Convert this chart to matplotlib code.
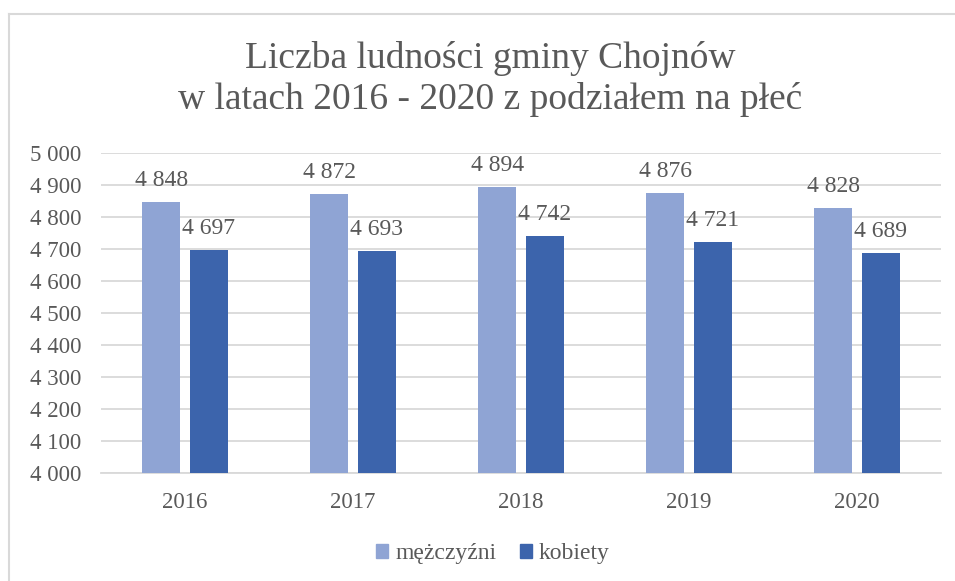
import matplotlib
matplotlib.use("Agg")
import matplotlib.pyplot as plt
import numpy as np
from matplotlib.lines import Line2D
from matplotlib.patches import Patch

years = ["2016", "2017", "2018", "2019", "2020"]
men = [4848, 4872, 4894, 4876, 4828]
women = [4697, 4693, 4742, 4721, 4689]
series_names = ["mężczyźni", "kobiety"]
yticks = [4000, 4100, 4200, 4300, 4400, 4500, 4600, 4700, 4800, 4900, 5000]
title = "Liczba ludności gminy Chojnów\nw latach 2016 - 2020 z podziałem na płeć"

plt.rcParams['font.family'] = 'serif'
plt.rcParams['font.serif'] = ['Liberation Serif', 'TeX Gyre Termes', 'DejaVu Serif']
TXT = '#595959'
C_MEN = '#8FA4D4'
C_WOMEN = '#3C64AC'
GRID = '#D9D9D9'

W, H = 955, 581
fig = plt.figure(figsize=(W / 100, H / 100), dpi=100)
ax = fig.add_axes([101 / W, (H - 473) / H, (941 - 101) / W, (473 - 153) / H])

x = np.arange(len(years))
off = 0.142
bw = 0.223
b1 = ax.bar(x - off, men, bw, color=C_MEN, zorder=3)
b2 = ax.bar(x + off, women, bw, color=C_WOMEN, zorder=3)

def fmt(v):
    return f"{v:,}".replace(",", " ")

for bars, vals in ((b1, men), (b2, women)):
    for r, v in zip(bars, vals):
        ax.annotate(fmt(v), (r.get_x() + r.get_width() / 2, v),
                    xytext=(0, 11.5), textcoords='offset points',
                    ha='center', va='baseline', fontsize=17, color=TXT)

ax.set_xlim(-0.5, len(years) - 0.5)
ax.set_ylim(yticks[0], yticks[-1])
ax.set_yticks(yticks)
ax.set_yticklabels([fmt(t) for t in yticks])
ax.set_xticks(x)
ax.set_xticklabels(years)
ax.tick_params(axis='y', length=0, pad=14, labelsize=16.5, labelcolor=TXT)
ax.tick_params(axis='x', length=0, pad=14, labelsize=16.5, labelcolor=TXT)
ax.grid(axis='y', color=GRID, linewidth=1.3, zorder=0)
for s in ax.spines.values():
    s.set_visible(False)
ax.spines['bottom'].set_visible(True)
ax.spines['bottom'].set_color(GRID)
ax.spines['bottom'].set_linewidth(1.3)

fig.text(490 / W, 1 - 79 / H, title, ha='center', va='center',
         fontsize=27, color=TXT, linespacing=1.22)

handles = [Patch(color=C_MEN), Patch(color=C_WOMEN)]
fig.legend(handles, series_names, loc='center',
           bbox_to_anchor=(493 / W, 1 - 554 / H), ncol=2, frameon=False,
           handlelength=0.5, handleheight=0.5, handletextpad=0.3,
           columnspacing=1.0, fontsize=17, labelcolor=TXT)

# chart border (top and left edges)
fig.add_artist(Line2D([9 / W, 1], [1 - 14 / H, 1 - 14 / H], transform=fig.transFigure,
                      color='#D9D9D9', linewidth=1.5))
fig.add_artist(Line2D([9 / W, 9 / W], [0, 1 - 14 / H], transform=fig.transFigure,
                      color='#D9D9D9', linewidth=1.5))

fig.savefig("out.png", dpi=100, facecolor='white')
